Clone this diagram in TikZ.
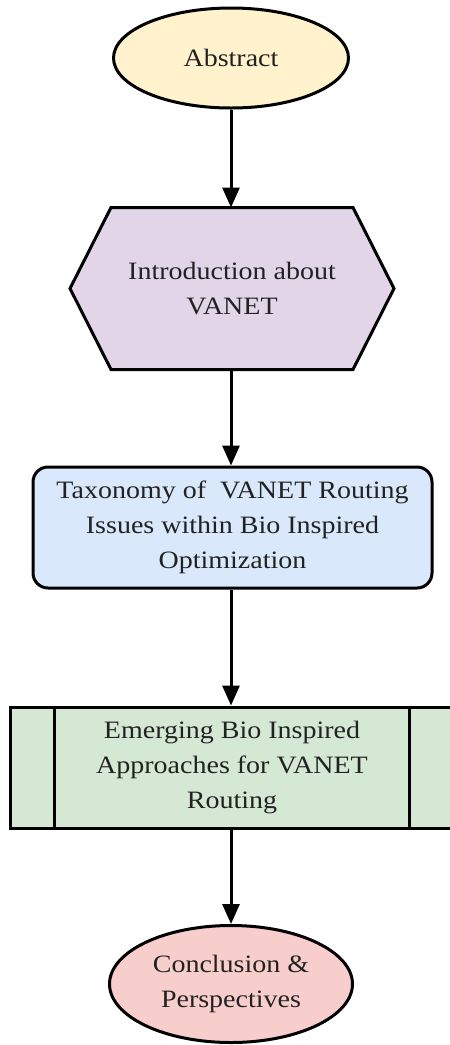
\documentclass[tikz,border=0pt]{standalone}
\usepackage{fontspec}
\setmainfont{Liberation Serif}[FakeStretch=1.12]
\usetikzlibrary{arrows.meta,shapes.geometric,backgrounds}
\definecolor{cA}{HTML}{FFF2CC}
\definecolor{cB}{HTML}{E1D5E7}
\definecolor{cC}{HTML}{DAE8FC}
\definecolor{cD}{HTML}{D5E8D4}
\definecolor{cE}{HTML}{F8CECC}
\definecolor{txt}{HTML}{222222}
\begin{document}
\begin{tikzpicture}[x=1pt,y=-1pt,
  base/.style={line width=3pt, font=\fontsize{25}{35}\selectfont, align=center, inner sep=0pt, text=txt},
  ell/.style={base, ellipse, draw},
  arr/.style={line width=3pt, -{Triangle[length=20pt,width=17pt]}}]
\useasboundingbox (0,0) rectangle (450,1045);
\node[ell, fill=cA, minimum width=235pt, minimum height=100pt] (abs) at (231,58) {Abstract};
\node[base, minimum width=321pt, minimum height=159pt] (intro) at (232,288.5) {Introduction about\\VANET};
\begin{scope}[on background layer]
\draw[line width=3pt, fill=cB, line join=miter] (intro.west) -- ([xshift=41pt]intro.north west) -- ([xshift=-41pt]intro.north east) -- (intro.east) -- ([xshift=-41pt]intro.south east) -- ([xshift=41pt]intro.south west) -- cycle;
\end{scope}
\node[base, draw, fill=cC, rounded corners=15pt, minimum width=399pt, minimum height=121pt] (tax) at (232.5,527.5) {Taxonomy of\ \ VANET Routing\\Issues within Bio Inspired\\Optimization};
\node[base, draw, fill=cD, minimum width=444pt, minimum height=121pt] (emerg) at (232,767.5) {Emerging Bio Inspired\\Approaches for VANET\\Routing};
\draw[line width=3pt] ([xshift=46pt]emerg.north west) -- ([xshift=46pt]emerg.south west);
\draw[line width=3pt] ([xshift=-46pt]emerg.north east) -- ([xshift=-46pt]emerg.south east);
\node[ell, fill=cE, minimum width=243pt, minimum height=117pt] (conc) at (231,984) {Conclusion \&\\Perspectives};
\draw[arr] (abs.south) -- (abs.south |- intro.north);
\draw[arr] (intro.south -| abs.south) -- (abs.south |- tax.north);
\draw[arr] (tax.south -| abs.south) -- (abs.south |- emerg.north);
\draw[arr] (emerg.south -| abs.south) -- (abs.south |- conc.north);
\end{tikzpicture}
\end{document}
